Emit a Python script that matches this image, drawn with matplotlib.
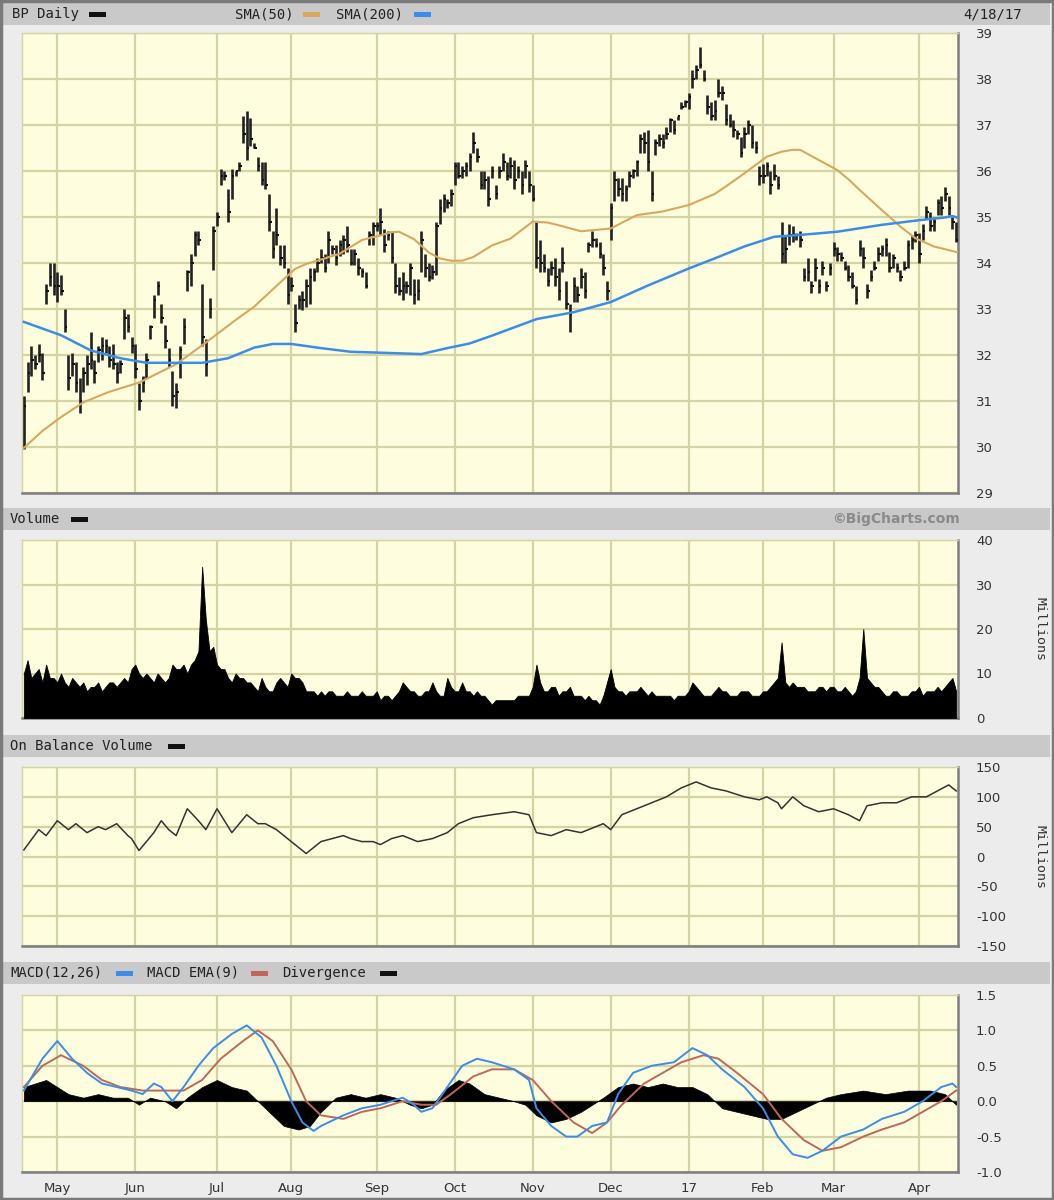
import numpy as np
import matplotlib
matplotlib.use("Agg")
import matplotlib.pyplot as plt
from matplotlib.patches import Rectangle

plt.rcParams['axes.unicode_minus'] = False

# ---- data ----
month_days = [9, 30, 52, 72, 95, 116, 137, 158, 179, 199, 218, 241]
month_labels = ['May', 'Jun', 'Jul', 'Aug', 'Sep', 'Oct', 'Nov', 'Dec', '17', 'Feb', 'Mar', 'Apr']

hi = [
    31.1, 31.85, 32.2, 32.0, 32.25, 32.05, 33.55, 34.0, 34.0, 33.8,
    33.75, 33.0, 32.0, 32.05, 31.85, 31.5, 31.75, 32.0, 32.5, 31.9,
    32.2, 32.4, 32.35, 32.2, 32.25, 31.85, 31.9, 33.0, 32.9, 32.4,
    32.25, 31.4, 31.55, 32.05, 32.65, 33.3, 33.6, 33.1, 32.65, 32.15,
    31.65, 31.4, 32.2, 32.8, 33.85, 34.2, 34.7, 34.7, 33.55, 32.35,
    33.25, 34.8, 35.1, 36.05, 36.0, 35.6, 36.05, 36.0, 36.2, 37.2,
    37.3, 37.15, 36.6, 36.3,
    36.2, 36.2, 35.5, 34.7, 35.2, 34.4, 34.4, 33.9, 33.7, 33.1,
    33.3, 33.4, 33.65, 33.9, 33.9, 34.1, 34.3, 34.2, 34.7, 34.4,
    34.4, 34.5, 34.6, 34.8, 34.3, 34.3, 34.1, 33.9, 33.8, 34.7,
    34.9, 34.9, 35.2, 34.75, 34.7, 34.7, 34.0, 33.7, 33.8, 33.6,
    34.0, 33.65, 33.65, 34.7, 34.2, 34.0, 33.95, 34.9, 35.4, 35.5,
    35.4, 35.6, 36.2, 36.2, 36.1, 36.2, 36.4, 36.85, 36.5, 36.0,
    36.0, 35.9,
    36.1, 35.7, 36.1, 36.4, 36.2, 36.3, 36.25, 36.1, 36.0, 36.25,
    36.0, 35.7, 34.9, 34.5, 34.2, 33.9, 34.05, 34.1, 33.9, 34.35,
    33.6, 33.1, 33.7, 33.5, 33.9, 33.8, 34.45, 34.7, 34.55, 34.45,
    34.2, 33.6, 35.3, 36.0, 35.85, 35.85, 35.7, 36.0, 36.05, 36.25,
    36.8, 36.85, 36.9, 36.0, 36.7, 36.8, 36.8, 36.95, 37.15, 37.1,
    37.2, 37.5, 37.55, 37.7, 38.2, 38.3, 38.7, 38.2, 37.65, 37.5,
    37.55, 38.0, 37.85,
    37.45, 37.25, 37.1, 36.9, 36.75, 36.95, 37.1, 37.0, 36.65, 36.1,
    36.15, 36.2, 36.0, 36.15, 35.9, 34.9, 34.6, 34.85, 34.8, 34.65,
    34.7, 33.9, 34.1, 33.6, 34.1, 33.65, 34.05, 33.6, 34.0, 34.45,
    34.35, 34.25, 34.05, 33.95, 33.8, 33.5, 34.5, 34.35, 33.55, 33.85,
    34.05, 34.35, 34.4, 34.55, 34.25, 34.2, 34.0, 33.85, 34.05, 34.5,
    34.6, 34.7, 34.65, 34.85, 35.25, 35.1, 35.0, 35.4, 35.45, 35.65,
    35.45, 35.0, 34.9,
]
lo = [
    29.95, 31.2, 31.55, 31.7, 31.85, 31.45, 33.1, 33.5, 33.3, 33.15,
    33.3, 32.5, 31.25, 31.55, 31.2, 30.75, 31.2, 31.35, 31.7, 31.4,
    31.85, 31.9, 32.05, 31.75, 31.7, 31.4, 31.6, 32.35, 32.5, 32.05,
    31.5, 30.8, 31.2, 31.5, 32.35, 32.8, 33.3, 32.7, 32.15, 31.75,
    30.9, 30.85, 31.5, 32.25, 33.4, 33.5, 34.15, 34.4, 32.2, 31.55,
    32.8, 33.85, 34.8, 35.7, 35.8, 34.9, 35.4, 35.9, 36.0, 36.6,
    36.25, 36.55, 36.5, 36.0,
    35.7, 35.6, 34.7, 34.1, 34.4, 33.95, 33.9, 33.1, 33.4, 32.5,
    33.0, 32.97, 33.05, 33.1, 33.6, 33.8, 34.0, 33.8, 34.0, 34.2,
    33.95, 34.15, 34.2, 34.25, 33.95, 33.95, 33.75, 33.7, 33.45, 34.4,
    34.4, 34.7, 34.6, 34.25, 34.5, 34.0, 33.35, 33.3, 33.2, 33.35,
    33.3, 33.1, 33.2, 33.8, 33.7, 33.6, 33.65, 33.75, 34.85, 35.1,
    35.2, 35.25, 35.7, 35.85, 35.85, 35.9, 36.0, 36.4, 36.2, 35.6,
    35.6, 35.25,
    35.85, 35.4, 35.85, 36.0, 35.8, 35.85, 35.6, 35.85, 35.5, 35.85,
    35.55, 35.35, 33.9, 33.8, 33.8, 33.5, 33.75, 33.5, 33.2, 33.8,
    33.0, 32.5, 33.15, 33.15, 33.45, 33.25, 34.25, 34.35, 34.35, 34.1,
    33.75, 33.2, 34.5, 35.35, 35.45, 35.35, 35.35, 35.65, 35.85, 35.9,
    36.4, 36.4, 36.0, 35.35, 36.35, 36.55, 36.5, 36.7, 36.85, 36.8,
    37.1, 37.35, 37.4, 37.35, 37.8, 38.0, 38.25, 37.95, 37.25, 37.1,
    37.1, 37.6, 37.55,
    37.0, 36.95, 36.75, 36.7, 36.3, 36.5, 36.8, 36.5, 36.4, 35.7,
    35.75, 35.9, 35.5, 35.8, 35.6, 34.0, 34.0, 34.4, 34.45, 34.5,
    34.35, 33.6, 33.6, 33.35, 33.6, 33.35, 33.75, 33.4, 33.75, 34.15,
    34.05, 34.05, 33.85, 33.6, 33.45, 33.1, 34.15, 33.9, 33.25, 33.6,
    33.85, 34.05, 34.15, 34.15, 33.8, 33.9, 33.8, 33.6, 33.85, 33.9,
    34.3, 34.45, 34.0, 34.5, 34.95, 34.7, 34.7, 35.05, 35.05, 35.35,
    35.05, 34.75, 34.45,
]
cl = [
    30.9, 31.6, 31.9, 31.8, 32.0, 31.6, 33.4, 33.7, 33.5, 33.5,
    33.4, 32.6, 31.5, 31.8, 31.4, 31.0, 31.6, 31.8, 31.9, 31.6,
    32.1, 32.2, 32.2, 31.9, 31.8, 31.6, 31.8, 32.8, 32.6, 32.2,
    31.7, 31.0, 31.4, 31.9, 32.6, 33.2, 33.5, 32.8, 32.3, 31.9,
    31.1, 31.2, 32.1, 32.6, 33.8, 34.0, 34.6, 34.5, 32.4, 31.8,
    33.0, 34.7, 35.0, 35.9, 35.9, 35.1, 35.9, 36.0, 36.1, 36.8,
    36.5, 36.7, 36.5, 36.1,
    35.8, 35.7, 34.9, 34.3, 34.6, 34.1, 34.0, 33.3, 33.5, 32.7,
    33.2, 33.2, 33.5, 33.7, 33.8, 34.0, 34.1, 33.9, 34.5, 34.3,
    34.1, 34.4, 34.5, 34.4, 34.0, 34.2, 33.9, 33.8, 33.5, 34.6,
    34.8, 34.8, 34.9, 34.4, 34.6, 34.1, 33.5, 33.4, 33.5, 33.5,
    33.9, 33.3, 33.4, 34.5, 33.9, 33.7, 33.8, 34.8, 35.2, 35.4,
    35.3, 35.5, 36.1, 35.9, 36.0, 36.1, 36.3, 36.6, 36.3, 35.7,
    35.8, 35.4,
    36.0, 35.5, 36.0, 36.2, 35.9, 36.1, 35.8, 36.0, 35.7, 36.1,
    35.7, 35.4, 34.1, 34.0, 33.9, 33.6, 33.9, 33.7, 33.4, 34.0,
    33.1, 32.9, 33.5, 33.3, 33.7, 33.4, 34.4, 34.5, 34.4, 34.2,
    33.9, 33.4, 35.2, 35.8, 35.6, 35.5, 35.6, 35.9, 36.0, 36.2,
    36.7, 36.6, 36.2, 35.5, 36.6, 36.7, 36.6, 36.8, 37.1, 36.9,
    37.2, 37.4, 37.5, 37.6, 38.0, 38.2, 38.3, 38.0, 37.4, 37.2,
    37.3, 37.7, 37.7,
    37.1, 37.0, 36.9, 36.8, 36.4, 36.8, 37.0, 36.6, 36.5, 35.9,
    35.9, 36.1, 35.7, 35.9, 35.7, 34.2, 34.3, 34.6, 34.6, 34.6,
    34.5, 33.7, 33.8, 33.5, 33.9, 33.5, 33.9, 33.5, 33.9, 34.3,
    34.2, 34.1, 33.9, 33.7, 33.5, 33.2, 34.3, 34.1, 33.4, 33.7,
    33.9, 34.2, 34.3, 34.4, 33.9, 34.1, 33.9, 33.7, 33.9, 34.4,
    34.5, 34.6, 34.2, 34.7, 35.1, 34.8, 34.9, 35.3, 35.2, 35.5,
    35.2, 34.9, 34.5,
]

sma50_days = [0, 5, 10, 16, 23, 31, 41, 49, 57, 62, 66, 70, 73, 76, 79, 85, 91,
              96, 99, 101, 105, 109, 112, 115, 118, 121, 123, 126, 131, 137, 141,
              144, 150, 158, 165, 172, 179, 186, 190, 194, 200, 204, 207, 209, 214,
              219, 222, 225, 231, 236, 240, 245, 252]
sma50 = [29.98, 30.35, 30.65, 30.97, 31.2, 31.4, 31.8, 32.27, 32.76, 33.05,
         33.35, 33.65, 33.87, 33.98, 34.05, 34.2, 34.5, 34.6, 34.67, 34.68,
         34.52, 34.23, 34.1, 34.05, 34.05, 34.13, 34.23, 34.38, 34.53, 34.9,
         34.88, 34.82, 34.69, 34.75, 35.04, 35.12, 35.26, 35.5, 35.72, 35.95,
         36.31, 36.42, 36.46, 36.46, 36.24, 36.02, 35.82, 35.59, 35.15, 34.79,
         34.54, 34.36, 34.22]

sma200_days = [0, 10, 18, 26, 33, 41, 48, 55, 62, 67, 72, 80, 88, 96, 107, 114,
               120, 126, 138, 148, 158, 168, 179, 186, 194, 202, 209, 219, 231,
               241, 248, 250, 252]
sma200 = [32.72, 32.43, 32.1, 31.93, 31.83, 31.83, 31.83, 31.93, 32.16, 32.24,
          32.24, 32.15, 32.07, 32.05, 32.02, 32.15, 32.25, 32.42, 32.78, 32.93,
          33.15, 33.51, 33.88, 34.1, 34.36, 34.57, 34.61, 34.68, 34.83, 34.93,
          34.99, 35.02, 34.97]

volume = [
    10, 13, 9, 10, 11, 8, 12, 9, 9, 8,
    10, 8, 7, 9, 8, 7, 8, 6, 7, 7,
    8, 6, 7, 8, 8, 7, 8, 9, 8, 11,
    12, 10, 9, 10, 9, 8, 10, 9, 8, 9,
    12, 11, 11, 12, 10, 12, 13, 15, 34, 22,
    15, 16, 12, 11, 11, 9, 8, 10, 9, 9,
    8, 8, 7, 6, 9, 7, 6, 6, 8, 9,
    8, 7, 10, 9, 9, 8, 6, 6, 6, 5,
    6, 5, 6, 6, 5, 5, 5, 6, 5, 5,
    5, 6, 5, 5, 5, 6, 4, 5, 5, 4,
    5, 6, 8, 7, 6, 6, 5, 5, 6, 6,
    8, 6, 5, 5, 9, 7, 6, 6, 8, 6,
    6, 5, 6, 5, 5, 4, 3, 4, 4, 4,
    4, 4, 4, 5, 5, 5, 5, 7, 12, 8,
    6, 6, 7, 7, 5, 6, 6, 7, 5, 5,
    5, 4, 5, 4, 4, 3, 5, 8, 11, 7,
    6, 6, 5, 6, 6, 6, 7, 6, 5, 6,
    5, 5, 5, 5, 5, 4, 5, 5, 5, 6,
    8, 7, 6, 5, 5, 5, 6, 7, 6, 6,
    5, 5, 5, 6, 6, 6, 5, 5, 5, 6,
    6, 7, 8, 9, 17, 8, 7, 8, 7, 7,
    7, 6, 6, 6, 7, 7, 6, 7, 7, 6,
    6, 7, 6, 5, 6, 9, 20, 9, 8, 7,
    7, 6, 5, 5, 6, 6, 5, 5, 5, 6,
    6, 7, 5, 6, 6, 6, 7, 6, 7, 8,
    9, 6,
]

obv_days = [0, 4, 6, 9, 12, 14, 17, 20, 22, 25, 28, 29, 31, 35, 37, 39, 41, 44,
            47, 49, 52, 56, 60, 63, 65, 68, 71, 74, 76, 80, 86, 88, 91, 94, 96,
            99, 102, 106, 110, 114, 117, 121, 126, 132, 136, 138, 142, 146, 150,
            156, 158, 161, 165, 169, 173, 177, 181, 185, 189, 194, 198, 200, 203,
            204, 207, 210, 214, 218, 222, 225, 227, 231, 235, 239, 243, 246, 249,
            251]
obv = [11, 45, 35, 60, 45, 55, 40, 50, 45, 55, 35, 30, 10, 40, 60, 45, 35, 80,
       60, 45, 80, 40, 70, 55, 55, 45, 30, 15, 5, 25, 35, 30, 25, 25, 20,
       30, 35, 25, 30, 40, 55, 65, 70, 75, 70, 40, 35, 45, 40,
       55, 45, 70, 80, 90, 100, 115, 125, 115, 110, 100, 95, 100, 90,
       80, 100, 85, 75, 80, 70, 60, 85, 90, 90, 100, 100, 110, 120,
       110]

macd_days = [0, 5, 9, 13, 17, 21, 25, 29, 32, 35, 37, 40, 43, 47, 51, 56, 60, 64,
             68, 72, 75, 78, 80, 86, 91, 96, 102, 105, 107, 110, 114, 118, 122,
             126, 132, 136, 138, 142, 146, 149, 153, 157, 160, 164, 169, 175, 180,
             184, 188, 194, 199, 203, 207, 211, 215, 220, 226, 231, 237, 242, 247,
             250, 251]
macd = [0.15, 0.6, 0.85, 0.6, 0.4, 0.25, 0.2, 0.15, 0.1, 0.25, 0.2, 0.0, 0.2,
        0.5, 0.75, 0.95, 1.07, 0.9, 0.5, 0.0, -0.3, -0.42, -0.35, -0.2, -0.1,
        -0.05, 0.05, -0.05, -0.15, -0.1, 0.2, 0.5, 0.6, 0.55, 0.45, 0.3, -0.1,
        -0.35, -0.5, -0.5, -0.35, -0.3, 0.1, 0.4, 0.5, 0.55, 0.75, 0.65, 0.45,
        0.2, -0.1, -0.5, -0.75, -0.8, -0.7, -0.5, -0.4, -0.25, -0.15, 0.0, 0.2,
        0.25, 0.2]

signal_days = [0, 5, 10, 16, 21, 26, 32, 37, 43, 48, 53, 59, 63, 67, 72, 76, 80,
               86, 91, 96, 102, 107, 111, 115, 121, 126, 132, 137, 142, 148, 153,
               157, 161, 167, 172, 177, 183, 187, 192, 199, 204, 210, 215, 220,
               226, 231, 237, 242, 247, 251]
signal = [0.2, 0.5, 0.65, 0.5, 0.3, 0.2, 0.15, 0.15, 0.15, 0.3, 0.6, 0.85, 1.0,
          0.85, 0.45, 0.0, -0.2, -0.25, -0.15, -0.1, 0.0, -0.05, -0.05, 0.1,
          0.35, 0.45, 0.45, 0.3, 0.0, -0.3, -0.45, -0.3, -0.05, 0.25, 0.4, 0.55,
          0.65, 0.6, 0.4, 0.1, -0.25, -0.55, -0.7, -0.65, -0.5, -0.4, -0.3,
          -0.15, 0.0, 0.15]

div_days = [0, 3, 6, 9, 12, 16, 20, 24, 28, 31, 34, 38, 41, 44, 48, 52, 56, 60,
            63, 66, 70, 74, 77, 80, 84, 88, 92, 96, 100, 104, 107, 110, 113, 117,
            120, 124, 128, 132, 135, 138, 142, 146, 150, 153, 156, 160, 164, 168,
            172, 176, 180, 184, 188, 192, 196, 200, 204, 208, 212, 216, 220, 226,
            232, 238, 244, 248, 251]
div = [0.2, 0.25, 0.3, 0.2, 0.1, 0.05, 0.1, 0.05, 0.05, -0.05, 0.05, 0.0, -0.1,
       0.05, 0.2, 0.3, 0.2, 0.15, 0.0, -0.15, -0.35, -0.4, -0.35, -0.15, 0.05,
       0.1, 0.05, 0.1, 0.05, -0.05, -0.1, -0.05, 0.15, 0.3, 0.25, 0.1, 0.05,
       0.0, -0.05, -0.2, -0.3, -0.25, -0.15, -0.05, 0.05, 0.2, 0.25, 0.2, 0.25,
       0.2, 0.2, 0.1, -0.1, -0.15, -0.2, -0.25, -0.25, -0.15, -0.05, 0.05, 0.1,
       0.15, 0.1, 0.15, 0.15, 0.1, -0.05]

# ---- styling ----
W, H = 1054, 1200
BG = '#ececec'
PANEL = '#fefedf'
GRID = '#d6d3a3'
HEAD = '#c9c9c9'
MONO = 'DejaVu Sans Mono'

fig = plt.figure(figsize=(W / 100, H / 100), dpi=100, facecolor=BG)


def fx(px):
    return px / W


def fy(py):
    return 1 - py / H


def panel(top, bottom):
    ax = fig.add_axes([fx(22), fy(bottom), fx(958) - fx(22), fy(top) - fy(bottom)])
    ax.set_facecolor(PANEL)
    ax.set_axisbelow(True)
    ax.set_xlim(-0.5, 251.5)
    ax.set_xticks(month_days)
    ax.xaxis.grid(True, color=GRID, lw=1.6)
    ax.yaxis.grid(True, color=GRID, lw=1.6)
    ax.yaxis.tick_right()
    ax.tick_params(axis='y', length=0, pad=13, labelsize=9.5, labelcolor='#333333')
    ax.tick_params(axis='x', length=0, labelbottom=False)
    for s in ['left', 'top']:
        ax.spines[s].set_color(GRID)
        ax.spines[s].set_linewidth(1.0)
    for s in ['right', 'bottom']:
        ax.spines[s].set_color('#7d7d7d')
        ax.spines[s].set_linewidth(1.8)
    return ax


def header(top, bottom):
    fig.patches.append(Rectangle((fx(3), fy(bottom)), fx(1050) - fx(3), fy(top) - fy(bottom),
                                 transform=fig.transFigure, facecolor=HEAD, edgecolor='none',
                                 zorder=0))


def label(px, py, text, **kw):
    fig.text(fx(px), fy(py), text, family=MONO, fontsize=10, color='#222222',
             va='center', **kw)


def swatch(px, py, color):
    fig.patches.append(Rectangle((fx(px), fy(py + 2.5)), fx(17), 5 / H,
                                 transform=fig.transFigure, facecolor=color,
                                 edgecolor='none', zorder=3))


# outer frame
fig.patches.append(Rectangle((0.001, 0.001), 0.998, 0.998, transform=fig.transFigure,
                             facecolor='none', edgecolor='#7a7a7a', lw=2.5, zorder=5))

# headers
header(3, 25)
header(508, 530)
header(735, 757)
header(962, 984)

label(12, 14, 'BP Daily')
swatch(89, 14, '#111111')
label(235, 14, 'SMA(50)')
swatch(303, 14, '#d9a75f')
label(336, 14, 'SMA(200)')
swatch(414, 14, '#3a8ee8')
label(1022, 14, '4/18/17', ha='right')

label(10, 519, 'Volume')
swatch(71, 519, '#111111')
fig.text(fx(960), fy(519), '\u00a9BigCharts.com', family='DejaVu Sans', fontsize=10,
         color='#8a8a8a', weight='bold', ha='right', va='center')

label(10, 746, 'On Balance Volume')
swatch(168, 746, '#111111')

label(10, 973, 'MACD(12,26)')
swatch(116, 973, '#3a8ee8')
label(147, 973, 'MACD EMA(9)')
swatch(251, 973, '#c0675a')
label(282, 973, 'Divergence')
swatch(380, 973, '#111111')

days = np.arange(len(hi))

# price panel
ax1 = panel(33, 493)
ax1.set_ylim(29, 39)
ax1.set_yticks(range(29, 40))
ax1.vlines(days, lo, hi, color='#222222', lw=1.9, zorder=3)
ax1.hlines(cl, days, days + 0.7, color='#111111', lw=1.5, zorder=3)
ax1.plot(sma50_days, sma50, color='#d9a75f', lw=1.5, zorder=4)
ax1.plot(sma200_days, sma200, color='#3a8ee8', lw=1.8, zorder=4)

# volume panel
ax2 = panel(540, 718)
ax2.set_ylim(0, 40)
ax2.set_yticks([0, 10, 20, 30, 40])
ax2.fill_between(days, 0, volume, color='#000000', lw=0.6, zorder=3)
fig.text(fx(1040), fy(629), 'Millions', family=MONO, fontsize=9.5, color='#333333',
         rotation=270, ha='center', va='center')

# on balance volume panel
ax3 = panel(767, 946)
ax3.set_ylim(-150, 150)
ax3.set_yticks([-150, -100, -50, 0, 50, 100, 150])
ax3.plot(obv_days, obv, color='#333333', lw=1.1, zorder=3)
fig.text(fx(1040), fy(857), 'Millions', family=MONO, fontsize=9.5, color='#333333',
         rotation=270, ha='center', va='center')

# MACD panel
ax4 = panel(995, 1172)
ax4.set_ylim(-1.0, 1.5)
ax4.set_yticks([-1.0, -0.5, 0.0, 0.5, 1.0, 1.5])
ax4.set_yticklabels(['-1.0', '-0.5', '0.0', '0.5', '1.0', '1.5'])
ax4.fill_between(div_days, 0, div, color='#000000', lw=0.5, zorder=3)
ax4.plot(signal_days, signal, color='#c0675a', lw=1.4, zorder=4)
ax4.plot(macd_days, macd, color='#3a8ee8', lw=1.4, zorder=5)
ax4.set_xticklabels(month_labels)
ax4.tick_params(axis='x', labelbottom=True, pad=7, labelsize=9.5, labelcolor='#333333')

fig.savefig('out.png', dpi=100, facecolor=BG)
